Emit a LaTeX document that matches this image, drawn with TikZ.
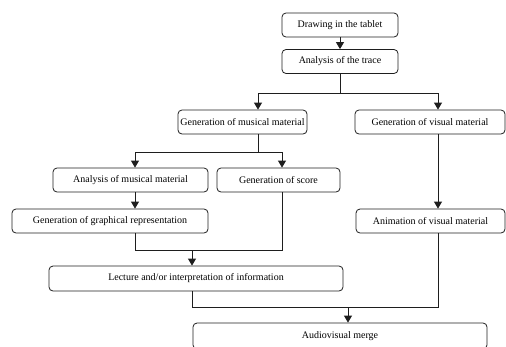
\documentclass[tikz,border=0pt]{standalone}
\usepackage{fontspec}
\setmainfont{Liberation Serif}
\usepackage{xcolor}
\usepackage{tikz}
\usetikzlibrary{arrows.meta}
\definecolor{flowLine}{RGB}{30,30,30}

\begin{document}
\begin{tikzpicture}[x=1pt,y=-1pt,
    flowbox/.style={draw=flowLine, line width=0.8pt, rounded corners=4pt, inner sep=0pt,
        minimum height=24pt, font=\fontsize{10}{12}\selectfont},
    arr/.style={flowLine, line width=0.8pt, -{Triangle[length=7pt,width=8pt]}},
    lin/.style={flowLine, line width=0.8pt}]
    \useasboundingbox (0,0) rectangle (506,346);

    \node[flowbox, minimum width=116pt] (draw)   at (340,25)    {Drawing in the tablet};
    \node[flowbox, minimum width=116pt] (trace)  at (340,61.5)  {Analysis of the trace};
    \node[flowbox, minimum width=129pt] (musgen) at (242.5,122) {Generation of musical material};
    \node[flowbox, minimum width=150pt] (visgen) at (430,122)   {Generation of visual material};
    \node[flowbox, minimum width=155pt] (musan)  at (130.5,180) {Analysis of musical material};
    \node[flowbox, minimum width=123pt] (score)  at (278.5,180) {Generation of score};
    \node[flowbox, minimum width=196pt] (graph)  at (110,221)   {Generation of graphical representation};
    \node[flowbox, minimum width=149pt] (anim)   at (430.5,221) {Animation of visual material};
    \node[flowbox, minimum width=294pt, minimum height=25pt] (lect)  at (196,278.5) {Lecture and/or interpretation of information};
    \node[flowbox, minimum width=294pt, minimum height=26pt] (merge) at (340,336)   {Audiovisual merge};

    \coordinate (j1)  at (340,93);
    \coordinate (j1l) at (258,93);
    \coordinate (j1r) at (438,93);
    \coordinate (j2)  at (258,152);
    \coordinate (j2l) at (135,152);
    \coordinate (j2r) at (282,152);
    \coordinate (j3)  at (192,250);
    \coordinate (j3l) at (135,250);
    \coordinate (j3r) at (282,250);
    \coordinate (j4)  at (348,307);
    \coordinate (j4l) at (192,307);
    \coordinate (j4r) at (438,307);

    \draw[arr] (draw) -- (trace);
    \draw[lin] (trace) -- (j1);
    \draw[lin] (j1l) -- (j1r);
    \draw[arr] (j1l) -- (j1l |- musgen.north);
    \draw[arr] (j1r) -- (j1r |- visgen.north);

    \draw[lin] (j1l |- musgen.south) -- (j2);
    \draw[lin] (j2l) -- (j2r);
    \draw[arr] (j2l) -- (j2l |- musan.north);
    \draw[arr] (j2r) -- (j2r |- score.north);
    \draw[arr] (j2l |- musan.south) -- (j2l |- graph.north);

    \draw[lin] (j3l |- graph.south) -- (j3l) -- (j3r) -- (j3r |- score.south);
    \draw[arr] (j3) -- (j3 |- lect.north);
    \draw[arr] (j1r |- visgen.south) -- (j1r |- anim.north);

    \draw[lin] (j4l |- lect.south) -- (j4l) -- (j4r) -- (j4r |- anim.south);
    \draw[arr] (j4) -- (j4 |- merge.north);
\end{tikzpicture}
\end{document}
